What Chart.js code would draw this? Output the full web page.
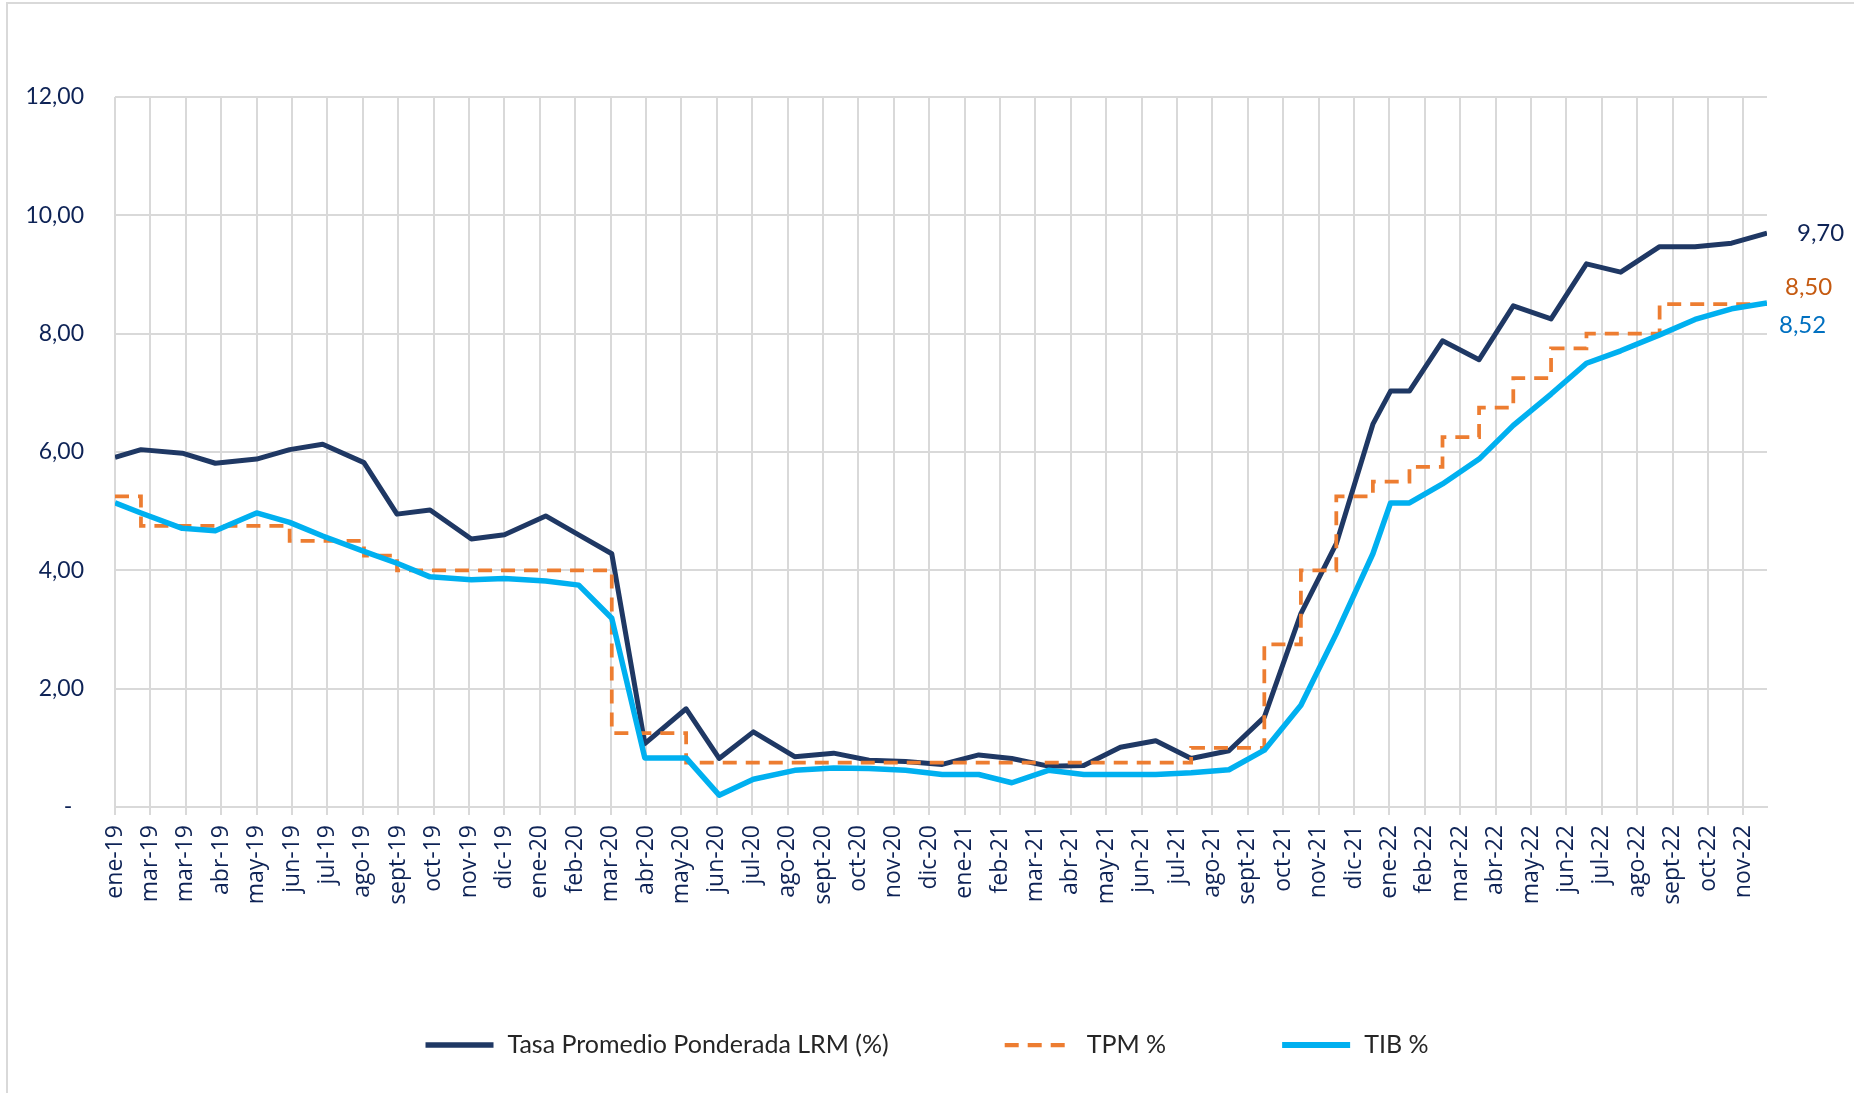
<!DOCTYPE html>
<html>
<head>
<meta charset="utf-8">
<script src="https://cdn.jsdelivr.net/npm/chart.js@4.4.0/dist/chart.umd.min.js"></script>
<style>
  html, body { margin: 0; padding: 0; background: #fff; }
  #wrap { position: relative; width: 1854px; height: 1093px; overflow: hidden; }
  #marco { position: absolute; left: 6px; top: 2px; right: -10px; bottom: -10px;
           border-left: 2px solid #d9d9d9; border-top: 2px solid #d9d9d9; }
  canvas { position: absolute; left: 0; top: 0; }
</style>
</head>
<body>
<div id="wrap">
  <div id="marco"></div>
  <canvas id="grafico" width="1854" height="1093"></canvas>
</div>
<script>
// eje x: una marca cada 30 dias desde el 30-ene-2019
const inicio = '2019-01-30';
const pasoDias = 30;
const etiquetasX = [
  'ene-19', 'mar-19', 'mar-19', 'abr-19', 'may-19', 'jun-19', 'jul-19', 'ago-19', 'sept-19', 'oct-19', 'nov-19', 'dic-19',
  'ene-20', 'feb-20', 'mar-20', 'abr-20', 'may-20', 'jun-20', 'jul-20', 'ago-20', 'sept-20', 'oct-20', 'nov-20', 'dic-20',
  'ene-21', 'feb-21', 'mar-21', 'abr-21', 'may-21', 'jun-21', 'jul-21', 'ago-21', 'sept-21', 'oct-21', 'nov-21', 'dic-21',
  'ene-22', 'feb-22', 'mar-22', 'abr-22', 'may-22', 'jun-22', 'jul-22', 'ago-22', 'sept-22', 'oct-22', 'nov-22'
];

const fechas = [
  '2019-01-30', '2019-02-21', '2019-03-28', '2019-04-25', '2019-05-30', '2019-06-27', '2019-07-25', '2019-08-29', '2019-09-26', '2019-10-24', '2019-11-28', '2019-12-26',
  '2020-01-30', '2020-02-27', '2020-03-26', '2020-04-23', '2020-05-28', '2020-06-25', '2020-07-24', '2020-08-28', '2020-09-30', '2020-10-30', '2020-11-30', '2020-12-31',
  '2021-01-31', '2021-02-28', '2021-03-31', '2021-04-30', '2021-05-31', '2021-06-30', '2021-07-30', '2021-08-31', '2021-09-30', '2021-10-31', '2021-11-30', '2021-12-31',
  '2022-01-15', '2022-01-31', '2022-02-28', '2022-03-31', '2022-04-29', '2022-05-31', '2022-06-30', '2022-07-29', '2022-08-31', '2022-09-30', '2022-10-31', '2022-11-30'
];

// Tasa Promedio Ponderada LRM (%)
const lrm = [
  5.91, 6.04, 5.98, 5.81, 5.88, 6.04, 6.13, 5.82, 4.95, 5.02, 4.53, 4.60,
  4.92, 4.60, 4.28, 1.07, 1.66, 0.82, 1.27, 0.85, 0.91, 0.79, 0.77, 0.72,
  0.88, 0.82, 0.69, 0.70, 1.01, 1.12, 0.82, 0.95, 1.52, 3.27, 4.45, 6.47,
  7.03, 7.03, 7.88, 7.56, 8.47, 8.25, 9.18, 9.04, 9.47, 9.47, 9.53, 9.70
];

// TPM %
const tpm = [
  5.25, 4.75, 4.75, 4.75, 4.75, 4.50, 4.50, 4.25, 4.00, 4.00, 4.00, 4.00,
  4.00, 4.00, 1.25, 1.25, 0.75, 0.75, 0.75, 0.75, 0.75, 0.75, 0.75, 0.75,
  0.75, 0.75, 0.75, 0.75, 0.75, 0.75, 1.00, 1.00, 2.75, 4.00, 5.25, 5.50,
  5.50, 5.75, 6.25, 6.75, 7.25, 7.75, 8.00, 8.00, 8.50, 8.50, 8.50, 8.50
];

// TIB %
const tib = [
  5.14, 4.97, 4.71, 4.67, 4.97, 4.81, 4.58, 4.32, 4.12, 3.89, 3.84, 3.86,
  3.82, 3.75, 3.19, 0.83, 0.83, 0.20, 0.47, 0.62, 0.66, 0.65, 0.62, 0.55,
  0.55, 0.41, 0.62, 0.55, 0.55, 0.55, 0.58, 0.63, 0.96, 1.72, 2.93, 4.28,
  5.14, 5.14, 5.46, 5.88, 6.45, 6.98, 7.50, 7.71, 7.98, 8.24, 8.42, 8.52
];

function dias(f) {
  return (Date.parse(f) - Date.parse(inicio)) / 86400000;
}
function puntos(serie) {
  return fechas.map((f, i) => ({ x: dias(f), y: serie[i] }));
}
function coma(v) {
  return v.toFixed(2).replace('.', ',');
}

// valor final junto a cada linea
const etiquetasFinales = {
  id: 'etiquetasFinales',
  afterDatasetsDraw(chart) {
    const c = chart.ctx;
    c.save();
    c.font = '24px Lato';
    c.textAlign = 'left';
    c.textBaseline = 'middle';
    chart.data.datasets.forEach((d, i) => {
      const meta = chart.getDatasetMeta(i);
      const p = meta.data[meta.data.length - 1];
      const e = d.etiqueta;
      c.fillStyle = e.color;
      c.fillText(coma(d.data[d.data.length - 1].y), p.x + e.dx, p.y + e.dy);
    });
    c.restore();
  }
};

// leyenda abajo, centrada
const leyenda = {
  id: 'leyenda',
  afterDraw(chart) {
    const c = chart.ctx;
    c.save();
    c.font = '25px Lato';
    const largo = 68, sep = 14, hueco = 116;
    const items = chart.data.datasets.map(d => ({ d: d, w: largo + sep + c.measureText(d.label).width }));
    const total = items.reduce((a, it) => a + it.w, 0) + hueco * (items.length - 1);
    let x = (chart.width - total) / 2;
    const y = 1045;
    items.forEach(it => {
      c.strokeStyle = it.d.borderColor;
      c.lineWidth = it.d.borderWidth + 0.5;
      c.setLineDash(it.d.borderDash || []);
      c.lineCap = 'butt';
      c.beginPath();
      c.moveTo(x, y);
      c.lineTo(x + largo, y);
      c.stroke();
      c.setLineDash([]);
      c.fillStyle = '#262626';
      c.textAlign = 'left';
      c.textBaseline = 'middle';
      c.fillText(it.d.label, x + largo + sep, y);
      x += it.w + hueco;
    });
    c.restore();
  }
};

const ctx = document.getElementById('grafico').getContext('2d');
const grafico = new Chart(ctx, {
  type: 'line',
  data: {
    datasets: [
      {
        label: 'Tasa Promedio Ponderada LRM (%)',
        data: puntos(lrm),
        borderColor: '#1F3864',
        borderWidth: 5,
        pointRadius: 0,
        borderJoinStyle: 'round',
        order: 2,
        etiqueta: { dx: 30, dy: 0, color: '#0E2356' }
      },
      {
        label: 'TPM %',
        data: puntos(tpm),
        borderColor: '#ED7D31',
        borderWidth: 3.75,
        borderDash: [14, 9],
        stepped: true,
        pointRadius: 0,
        order: 1,
        etiqueta: { dx: 18, dy: -17, color: '#C55A11' }
      },
      {
        label: 'TIB %',
        data: puntos(tib),
        borderColor: '#00B0F0',
        borderWidth: 5.5,
        pointRadius: 0,
        borderJoinStyle: 'round',
        order: 0,
        etiqueta: { dx: 12, dy: 22, color: '#0070C0' }
      }
    ]
  },
  options: {
    responsive: false,
    animation: false,
    layout: { padding: { left: 10, right: 87, top: 97, bottom: 156 } },
    plugins: {
      legend: { display: false },
      tooltip: { enabled: false }
    },
    scales: {
      x: {
        type: 'linear',
        min: 0,
        max: dias(fechas[fechas.length - 1]),
        afterBuildTicks: s => { s.ticks = etiquetasX.map((_, i) => ({ value: i * pasoDias })); },
        afterFit: s => { s.height = 130; },
        ticks: {
          autoSkip: false,
          minRotation: 90,
          maxRotation: 90,
          padding: 10,
          color: '#0E2356',
          font: { family: 'Open Sans', size: 23 },
          callback: (v, i) => etiquetasX[i]
        },
        grid: { color: '#d9d9d9', lineWidth: 2, tickLength: 8 },
        border: { color: '#d9d9d9', width: 2 }
      },
      y: {
        min: 0,
        max: 12,
        afterFit: s => { s.width = 105; },
        ticks: {
          stepSize: 2,
          padding: 31,
          color: '#0E2356',
          font: { family: 'Lato', size: 23 },
          callback: v => v === 0 ? '-  ' : coma(v)
        },
        grid: { color: '#d9d9d9', lineWidth: 2, drawTicks: false },
        border: { display: false }
      }
    }
  },
  plugins: [etiquetasFinales, leyenda]
});
</script>
</body>
</html>
